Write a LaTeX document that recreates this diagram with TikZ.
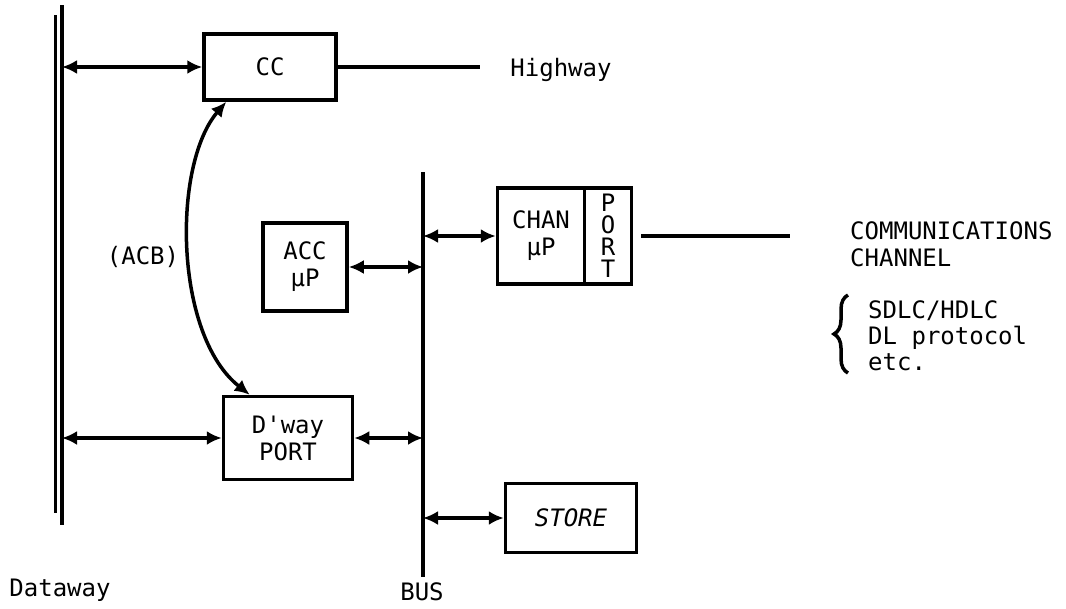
\documentclass[tikz,border=0pt]{standalone}
\usepackage{fontspec}
\setmonofont{DejaVu Sans Mono}
\usetikzlibrary{arrows.meta, decorations.pathreplacing}

\begin{document}
\begin{tikzpicture}[x=1pt, y=-1pt,
        every node/.style={font=\ttfamily\fontsize{24}{27}\selectfont},
        box/.style={draw, line width=3.5pt, inner sep=0pt, align=center},
        biarrow/.style={{Latex[length=15pt,width=14pt]}-{Latex[length=15pt,width=14pt]},
                        line width=3.5pt},
        wire/.style={line width=3.5pt},
      ]
      \useasboundingbox (0,0) rectangle (1066,608);
      % dataway and bus
      \coordinate (dwtop) at (62,5);   \coordinate (dwbot) at (62,525);
      \coordinate (dwtop2) at (55,15); \coordinate (dwbot2) at (55,513);
      \coordinate (bustop) at (423,172); \coordinate (busbot) at (423,577);
      \draw[wire] (dwtop) -- (dwbot);
      \draw[line width=3pt] (dwtop2) -- (dwbot2);
      \draw[wire] (bustop) -- (busbot);
      \node (dwlbl) at (60,590) {Dataway};
      \node (buslbl) at (422,592) {BUS};

      \node[box, minimum width=132pt, minimum height=66pt] (cc) at (270,67) {CC};
      \node[box, minimum width=84pt, minimum height=88pt] (acc) at (305,267) {ACC\\µP};
      \node[box, minimum width=87pt, minimum height=96pt] (chan) at (541,236) {CHAN\\µP};
      \node[box, minimum width=47pt, minimum height=96pt,
            font=\ttfamily\fontsize{24}{22}\selectfont] (port) at (608,236) {P\\O\\R\\T};
      \node[box, minimum width=129pt, minimum height=83pt] (dway) at (288,438) {D'way\\PORT};
      \node[box, minimum width=131pt, minimum height=69pt,
            font=\ttfamily\itshape\fontsize{24}{27}\selectfont] (store) at (571,518) {STORE};

      % highway and channel
      \coordinate (hwend) at (480,70);
      \draw[wire] (cc.east) -- (cc.east -| hwend);
      \node (hw) at (561,70) {Highway};
      \coordinate (chend) at (790,237);
      \draw[wire, shorten <=8pt] (port.east) -- (port.east -| chend);
      \node[anchor=west, align=left, inner sep=0pt] (comm) at (850,244) {COMMUNICATIONS\\CHANNEL};
      \node[anchor=west, align=left, inner sep=0pt,
            font=\ttfamily\fontsize{24}{26}\selectfont] (proto) at (868,336) {SDLC/HDLC\\DL protocol\\etc.};
      \draw[wire, decorate, decoration={brace, amplitude=14pt}] (848,373) -- (848,295);

      % links
      \draw[biarrow] (cc.west -| dwtop) -- (cc.west);
      \draw[biarrow] (acc.east) -- (acc.east -| bustop);
      \draw[biarrow] (chan.west -| bustop) -- (chan.west);
      \draw[biarrow] (dway.west -| dwtop) -- (dway.west);
      \draw[biarrow] (dway.east) -- (dway.east -| bustop);
      \draw[biarrow] (store.west -| bustop) -- (store.west);
      \draw[biarrow] ([xshift=24pt]cc.south west) .. controls (172,165) and (174,335)
            .. ([xshift=28pt]dway.north west);
      \node (acb) at (143,257) {(ACB)};
    \end{tikzpicture}
\end{document}
